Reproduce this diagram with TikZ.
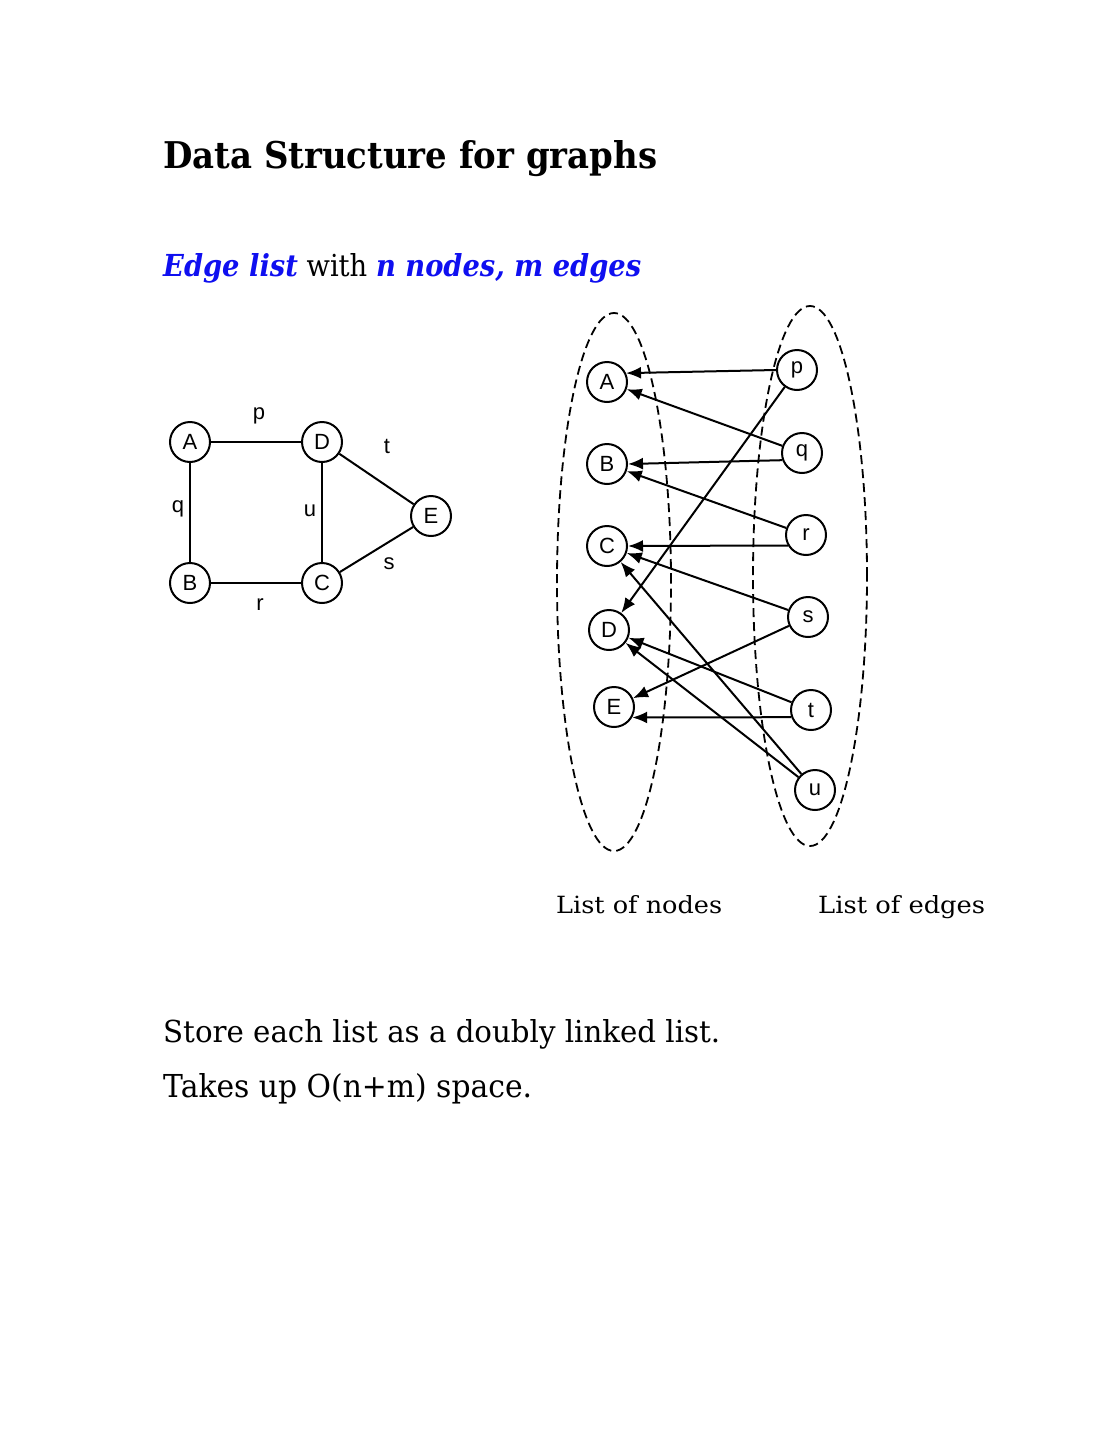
\documentclass[tikz,border=0pt]{standalone}
\usepackage{fontspec}
\usepackage{graphicx}
\setmainfont{DejaVu Serif}
\newfontfamily\arialf{Liberation Sans}
\usetikzlibrary{arrows.meta}
\definecolor{eblue}{RGB}{15,15,240}
\newcommand\fitwh[3]{\resizebox{#1}{#2}{#3}}
\begin{document}
\begin{tikzpicture}[x=1pt,y=-1pt,
  vnode/.style={circle,draw,line width=2pt,minimum size=40pt,inner sep=0pt,font=\arialf\fontsize{22}{22}\selectfont},
  elabel/.style={font=\arialf\fontsize{22}{22}\selectfont,inner sep=0pt},
  gedge/.style={line width=2pt},
  arr/.style={line width=2pt,-{Latex[length=15pt,width=12pt]}},
  listell/.style={draw,line width=1.8pt,dash pattern=on 9pt off 5pt},
  txt/.style={anchor=base west,inner sep=0pt}]
\useasboundingbox[fill=white] (0,0) rectangle (1113,1440);

% title and subtitle
\node[txt] (title) at (163,168) {\fitwh{494pt}{28pt}{\fontsize{40}{40}\selectfont\bfseries Data Structure for graphs}};
\node[txt] (sub) at (163,276) {\fitwh{478pt}{23pt}{\fontsize{30}{30}\selectfont{\color{eblue}\bfseries\itshape Edge list} with {\color{eblue}\bfseries\itshape n nodes, m edges}}};

% left graph
\node[vnode] (gA) at (190,442) {A};
\node[vnode] (gD) at (322,442) {D};
\node[vnode] (gE) at (431,516) {E};
\node[vnode] (gB) at (190,583) {B};
\node[vnode] (gC) at (322,583) {C};
\draw[gedge] (gA) -- (gD);
\draw[gedge] (gA) -- (gB);
\draw[gedge] (gB) -- (gC);
\draw[gedge] (gD) -- (gC);
\draw[gedge] (gD) -- (gE);
\draw[gedge] (gC) -- (gE);
\node[elabel] (lp) at (259,416) {p};
\node[elabel] (lq) at (178,509) {q};
\node[elabel] (lu) at (310,511) {u};
\node[elabel] (lt) at (387,446) {t};
\node[elabel] (ls) at (389,564) {s};
\node[elabel] (lr) at (260,605) {r};

% list ellipses
\draw[listell] (614,582) ellipse [x radius=57pt, y radius=269pt];
\draw[listell] (810,576) ellipse [x radius=57pt, y radius=270pt];

% node list
\node[vnode] (A) at (607,382) {A};
\node[vnode] (B) at (607,464) {B};
\node[vnode] (C) at (607,546) {C};
\node[vnode] (D) at (609,630) {D};
\node[vnode] (E) at (614,707) {E};
% edge list
\node[vnode] (p) at (797,370) {p};
\node[vnode] (q) at (802,453) {q};
\node[vnode] (r) at (806,535) {r};
\node[vnode] (s) at (808,617) {s};
\node[vnode] (t) at (811,710) {t};
\node[vnode] (u) at (815,790) {u};

\draw[arr] (p.west) -- (A.25);
\draw[arr] (p) -- (D);
\draw[arr] (q) -- (A);
\draw[arr] (q.200) -- (B.east);
\draw[arr] (r) -- (B);
\draw[arr] (r.210) -- (C.east);
\draw[arr] (s) -- (C);
\draw[arr] (s) -- (E);
\draw[arr] (t) -- (D);
\draw[arr] (t.200) -- (E.330);
\draw[arr] (u) -- (C);
\draw[arr] (u) -- (D);

% captions
\node[txt] (capn) at (556,913) {\fitwh{166pt}{18pt}{\fontsize{24}{24}\selectfont List of nodes}};
\node[txt] (cape) at (818,913) {\fitwh{167pt}{18pt}{\fontsize{24}{24}\selectfont List of edges}};

% body text
\node[txt] (l1) at (163,1042) {\fitwh{557pt}{23pt}{\fontsize{30}{30}\selectfont Store each list as a doubly linked list.}};
\node[txt] (l2) at (163,1097) {\fitwh{369pt}{24pt}{\fontsize{30}{30}\selectfont Takes up O(n+m) space.}};
\end{tikzpicture}
\end{document}
